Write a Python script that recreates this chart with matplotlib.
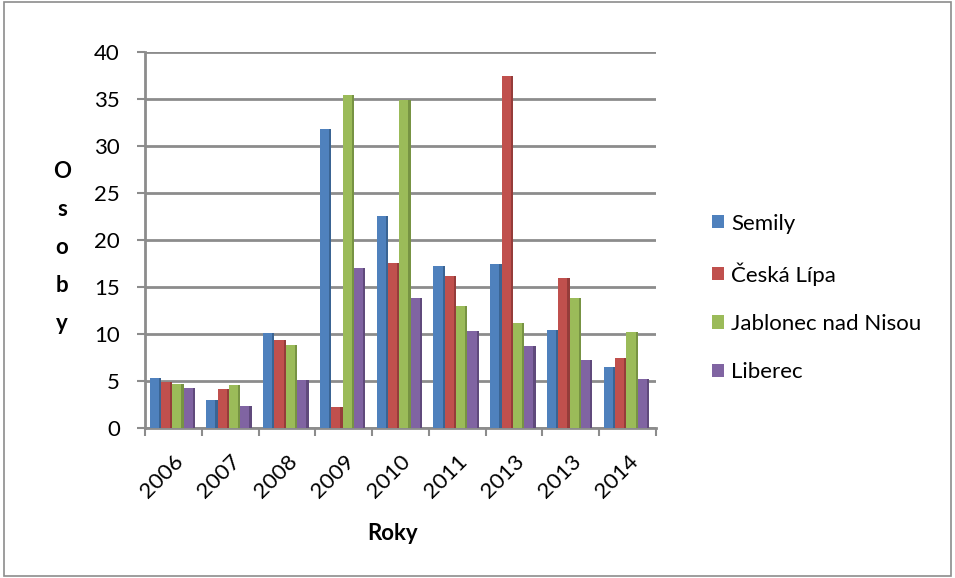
import numpy as np
import matplotlib.pyplot as plt
from matplotlib.patches import Rectangle

plt.rcParams['font.family'] = ['Lato', 'DejaVu Sans']

roky = ['2006', '2007', '2008', '2009', '2010', '2011', '2013', '2013', '2014']
semily = [5.3, 3.0, 10.1, 31.8, 22.6, 17.2, 17.5, 10.4, 6.5]
ceska_lipa = [4.9, 4.1, 9.4, 2.2, 17.6, 16.2, 37.5, 16.0, 7.5]
jablonec = [4.7, 4.6, 8.8, 35.4, 34.9, 13.0, 11.2, 13.8, 10.2]
liberec = [4.3, 2.3, 5.1, 17.0, 13.8, 10.3, 8.7, 7.2, 5.2]

series = [('Semily', semily, '#4F81BD', '#3A6493'),
          ('Česká Lípa', ceska_lipa, '#C0504D', '#953C3A'),
          ('Jablonec nad Nisou', jablonec, '#9BBB59', '#779343'),
          ('Liberec', liberec, '#8064A2', '#604A7C')]

fs = 16

fig = plt.figure(figsize=(9.55, 5.78), dpi=100)
ax = fig.add_axes([145/955, 1-428/578, (656-145)/955, (428-52)/578])

x = np.arange(len(roky))
w = 0.2
for i, (name, vals, col, dark) in enumerate(series):
    pos = x + (i - 1.5) * w - 0.02
    ax.bar(pos, vals, width=w, color=col, label=name, zorder=3)
    # darker side strip for the Excel 3D look
    ax.bar(pos + w * 0.4, vals, width=w * 0.2, color=dark, zorder=3)

ax.set_xlim(-0.5, len(roky) - 0.5)
ax.set_ylim(0, 40)
ax.set_yticks(range(0, 41, 5))
ax.yaxis.grid(True, color='#8C8C8C', linewidth=2)
ax.set_axisbelow(True)
for s in ['top', 'right']:
    ax.spines[s].set_visible(False)
ax.spines['left'].set_color('#8C8C8C')
ax.spines['left'].set_linewidth(2)
ax.spines['bottom'].set_color('#8C8C8C')
ax.spines['bottom'].set_linewidth(2)

ax.set_xticks(x)
ax.set_xticklabels(roky, rotation=45, ha='right', rotation_mode='anchor', fontsize=fs)
ax.tick_params(axis='x', length=0, pad=17)
ax.set_xticks(np.arange(-0.5, len(roky)), minor=True)
ax.tick_params(axis='x', which='minor', length=6, color='#8C8C8C', width=1.5)
ax.tick_params(axis='y', labelsize=fs, length=6, color='#8C8C8C', width=1.5, pad=12)

fig.text(393/955, 1-533/578, 'Roky', ha='center', va='center', fontsize=fs, fontweight='bold')
for k, ch in enumerate('Osoby'):
    fig.text(62/955, 1-(172 + 38*k)/578, ch, ha='center', va='center', fontsize=fs, fontweight='bold')

handles, labels = ax.get_legend_handles_labels()
fig.legend(handles, labels, loc='center left', bbox_to_anchor=(692/955, 1-298/578),
           frameon=False, fontsize=fs, handlelength=0.55, handleheight=0.55,
           handletextpad=0.3, labelspacing=1.28)

fig.patches.append(Rectangle((4/955, 2/578), 947/955, 574/578, transform=fig.transFigure,
                             fill=False, edgecolor='#8C8C8C', linewidth=1.2))

fig.savefig('out.png', dpi=100)
